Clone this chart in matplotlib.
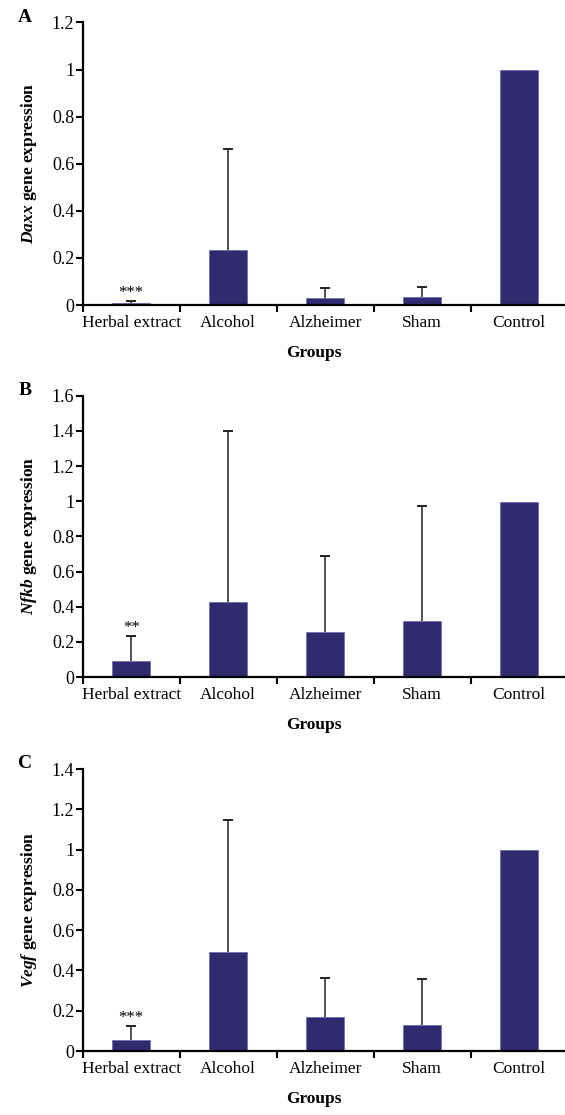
import numpy as np
import matplotlib
matplotlib.use("Agg")
import matplotlib.pyplot as plt

plt.rcParams['font.family'] = ['Liberation Serif', 'DejaVu Serif']
plt.rcParams['mathtext.fontset'] = 'custom'
plt.rcParams['mathtext.it'] = 'Liberation Serif:italic:bold'
plt.rcParams['mathtext.rm'] = 'Liberation Serif:bold'

groups = ['Herbal extract', 'Alcohol', 'Alzheimer', 'Sham', 'Control']

# panel A - Daxx
daxx_mean = [0.007, 0.233, 0.028, 0.034, 1.0]
daxx_err = [0.009, 0.430, 0.045, 0.044, 0.0]
# panel B - Nfkb
nfkb_mean = [0.091, 0.428, 0.256, 0.316, 0.996]
nfkb_err = [0.144, 0.972, 0.430, 0.657, 0.0]
# panel C - Vegf
vegf_mean = [0.053, 0.490, 0.171, 0.131, 1.0]
vegf_err = [0.069, 0.659, 0.192, 0.225, 0.0]

panels = [
    ('A', 'Daxx', daxx_mean, daxx_err, 1.2, '***'),
    ('B', 'Nfkb', nfkb_mean, nfkb_err, 1.6, '**'),
    ('C', 'Vegf', vegf_mean, vegf_err, 1.4, '***'),
]

# pixel layout of each panel: (top of y axis, zero line)
rows = [(22.5, 305), (395.7, 677), (769, 1051)]

W, H = 565, 1115
fig = plt.figure(figsize=(W / 100, H / 100), dpi=100)
bar_col = '#302a6e'
x = np.arange(len(groups))

for (letter, gene, mean, err, ymax, stars), (ytop, y0) in zip(panels, rows):
    ax = fig.add_axes([82.7 / W, 1 - y0 / H, 485 / W, (y0 - ytop) / H])
    ax.bar(x, mean, width=0.39, color=bar_col, edgecolor='#6a66b0', linewidth=0.5, zorder=2)

    # upper error bars only (whisker + cap)
    m = np.array(mean)
    e = np.array(err)
    keep = e > 0
    ax.vlines(x[keep], m[keep], m[keep] + e[keep], color='#222222', lw=1.1, zorder=1)
    ax.scatter(x[keep], m[keep] + e[keep], marker='_', s=55, color='#222222',
               linewidths=1.4, zorder=3)

    ax.annotate(stars, (x[0], mean[0] + err[0]), xytext=(0, 0), textcoords='offset points',
                ha='center', va='bottom', fontsize=12)

    ax.set_xlim(-0.5, 4.5)
    ax.set_ylim(0, ymax)
    yt = np.arange(0, ymax + 0.01, 0.2)
    ax.set_yticks(yt)
    ax.set_yticklabels(['%g' % round(v, 1) for v in yt], fontsize=13)
    ax.set_xticks(x)
    ax.set_xticklabels(groups, fontsize=12.5)
    ax.set_xticks(np.arange(-0.5, 4.5, 1.0), minor=True)
    ax.tick_params(axis='x', which='major', length=0, pad=7)
    ax.tick_params(axis='x', which='minor', length=5, width=1.5, direction='out')
    ax.tick_params(axis='y', length=5, width=1.5, direction='out', pad=1)

    for s in ['top', 'right']:
        ax.spines[s].set_visible(False)
    for s in ['left', 'bottom']:
        ax.spines[s].set_linewidth(1.6)

    ax.set_ylabel(r'$\mathit{%s}$ gene expression' % gene, fontsize=12.5, fontweight='bold', labelpad=9)
    fig.text(25 / W, 1 - (ytop - 5) / H, letter, fontsize=14, fontweight='bold',
             ha='center', va='center')
    fig.text(314 / W, 1 - (y0 + 48) / H, 'Groups', fontsize=12.5, fontweight='bold',
             ha='center', va='center')

fig.savefig('out.png', dpi=100)
